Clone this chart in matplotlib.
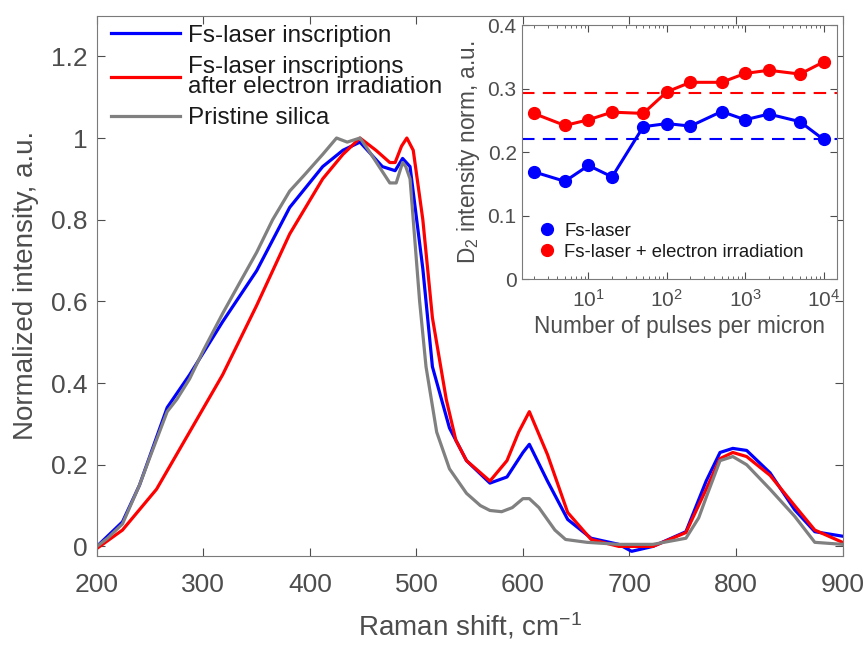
import numpy as np
import matplotlib
matplotlib.use('Agg')
import matplotlib.pyplot as plt

plt.rcParams['font.family'] = ['Liberation Sans', 'DejaVu Sans']
plt.rcParams['mathtext.fontset'] = 'custom'
plt.rcParams['mathtext.rm'] = 'Liberation Sans'
plt.rcParams['mathtext.it'] = 'Liberation Sans'

# Raman spectra (shift in cm^-1, normalized intensity)
shift_blue = [200, 224, 240, 266, 287, 318, 350, 381, 412, 431, 447, 468, 480, 487, 494,
              506, 515, 531, 547, 569, 585, 600, 606, 623, 642, 664, 690, 702, 722, 753,
              772, 785, 797, 810, 832, 855, 874, 900]
int_blue = [0.0, 0.06, 0.15, 0.34, 0.42, 0.55, 0.675, 0.83, 0.93, 0.97, 0.99, 0.93, 0.92, 0.95, 0.93,
            0.68, 0.44, 0.29, 0.21, 0.155, 0.17, 0.23, 0.25, 0.16, 0.066, 0.02, 0.005, -0.012, 0.0, 0.036,
            0.16, 0.23, 0.24, 0.235, 0.18, 0.09, 0.036, 0.025]

shift_red = [200, 224, 256, 287, 318, 350, 381, 412, 431, 447, 462, 475, 480, 486, 491,
             497, 506, 515, 528, 537, 547, 569, 585, 596, 606, 623, 642, 664, 690, 722,
             753, 772, 785, 797, 810, 832, 855, 874, 900]
int_red = [-0.005, 0.04, 0.14, 0.28, 0.42, 0.59, 0.765, 0.90, 0.96, 1.0, 0.97, 0.94, 0.94, 0.98, 1.0,
           0.97, 0.80, 0.56, 0.36, 0.26, 0.21, 0.16, 0.21, 0.28, 0.33, 0.225, 0.083, 0.017, 0.0, 0.0,
           0.034, 0.14, 0.215, 0.23, 0.22, 0.174, 0.10, 0.04, 0.01]

shift_gray = [200, 210, 224, 240, 250, 266, 275, 287, 300, 318, 335, 350, 365, 381, 395,
              412, 425, 435, 447, 455, 465, 475, 481, 487, 490, 494, 503, 509, 519, 531,
              547, 560, 569, 580, 590, 600, 606, 615, 630, 640, 660, 690, 722, 753, 765,
              772, 785, 797, 810, 832, 855, 874, 900]
int_gray = [0.0, 0.02, 0.055, 0.15, 0.22, 0.33, 0.36, 0.41, 0.48, 0.57, 0.65, 0.72, 0.80, 0.87, 0.91,
            0.96, 1.0, 0.99, 1.0, 0.97, 0.93, 0.89, 0.89, 0.94, 0.93, 0.90, 0.60, 0.44, 0.28, 0.19,
            0.13, 0.10, 0.088, 0.085, 0.095, 0.117, 0.117, 0.095, 0.04, 0.017, 0.01, 0.005, 0.005, 0.02, 0.07,
            0.12, 0.21, 0.22, 0.20, 0.14, 0.074, 0.01, 0.005]

# inset: D2 intensity vs pulses per micron
pulses = [2, 5, 10, 20, 50, 100, 200, 500, 1000, 2000, 5000, 10000]
d2_fs = [0.169, 0.154, 0.179, 0.161, 0.240, 0.245, 0.241, 0.264, 0.251, 0.260, 0.248, 0.220]
d2_fs_e = [0.261, 0.242, 0.251, 0.263, 0.261, 0.295, 0.310, 0.310, 0.324, 0.329, 0.323, 0.342]
d2_fs_ref = 0.220
d2_fs_e_ref = 0.293

txt = '#4d4d4d'
spine = '#7a7a7a'

fig = plt.figure(figsize=(8.65, 6.46), dpi=100)
ax = fig.add_axes([0.112, 0.139, 0.862, 0.837])

ax.plot(shift_blue, int_blue, color='#0000ff', lw=2.3, label='Fs-laser inscription')
ax.plot(shift_red, int_red, color='#ff0000', lw=2.3,
        label='Fs-laser inscriptions\nafter electron irradiation')
ax.plot(shift_gray, int_gray, color='#808080', lw=2.3, label='Pristine silica')

ax.set_xlim(200, 900)
ax.set_ylim(-0.024, 1.3)
ax.set_xticks(range(200, 901, 100))
ax.set_yticks([0, 0.2, 0.4, 0.6, 0.8, 1.0, 1.2])
ax.set_yticklabels(['0', '0.2', '0.4', '0.6', '0.8', '1', '1.2'])
ax.tick_params(direction='in', top=True, right=True, labelsize=19, colors=txt,
               length=6, width=0.8)
ax.tick_params(axis='x', pad=12)
ax.tick_params(axis='y', pad=7)
for s in ax.spines.values():
    s.set_color(spine)
ax.set_xlabel('Raman shift, cm$^{-1}$', fontsize=20, color=txt, labelpad=10)
ax.set_ylabel('Normalized intensity, a.u.', fontsize=20, color=txt, labelpad=8)

leg = ax.legend(loc='upper left', frameon=False, fontsize=17.5, handlelength=2.8,
                handletextpad=0.35, labelspacing=0.38, borderaxespad=0.2,
                bbox_to_anchor=(0.0, 1.01))
for t in leg.get_texts():
    t.set_color('#1a1a1a')
    t.set_linespacing(0.9)

# inset
ins = fig.add_axes([0.603, 0.568, 0.365, 0.393])
ins.axhline(d2_fs_e_ref, color='#ff0000', lw=1.5, ls=(0, (6, 4)))
ins.axhline(d2_fs_ref, color='#0000ff', lw=1.5, ls=(0, (6, 4)))
ins.plot(pulses, d2_fs, '-o', color='#0000ff', lw=2.2, ms=8.5, label='Fs-laser')
ins.plot(pulses, d2_fs_e, '-o', color='#ff0000', lw=2.2, ms=8.5,
         label='Fs-laser + electron irradiation')
ins.set_xscale('log')
ins.set_xlim(1.4, 1.5e4)
ins.set_ylim(0, 0.4)
ins.set_xticks([10, 100, 1000, 10000])
ins.set_yticks([0, 0.1, 0.2, 0.3, 0.4])
ins.set_yticklabels(['0', '0.1', '0.2', '0.3', '0.4'])
ins.tick_params(which='both', direction='in', top=True, right=True, colors=txt,
                labelsize=15)
ins.tick_params(which='major', length=5)
ins.tick_params(which='minor', length=2.5)
ins.tick_params(axis='x', pad=7)
for s in ins.spines.values():
    s.set_color(spine)
ins.set_xlabel('Number of pulses per micron', fontsize=16.3, color=txt, labelpad=3)
ins.set_ylabel('D$_2$ intensity norm, a.u.', fontsize=16.3, color=txt, labelpad=4)
leg2 = ins.legend(loc='lower left', frameon=False, fontsize=13.3, handlelength=0.8,
                  handletextpad=0.5, labelspacing=0.2, borderaxespad=0.6)
for h in leg2.legend_handles:
    h.set_linestyle('none')
for t in leg2.get_texts():
    t.set_color('#1a1a1a')

fig.savefig('out.png', dpi=100)
